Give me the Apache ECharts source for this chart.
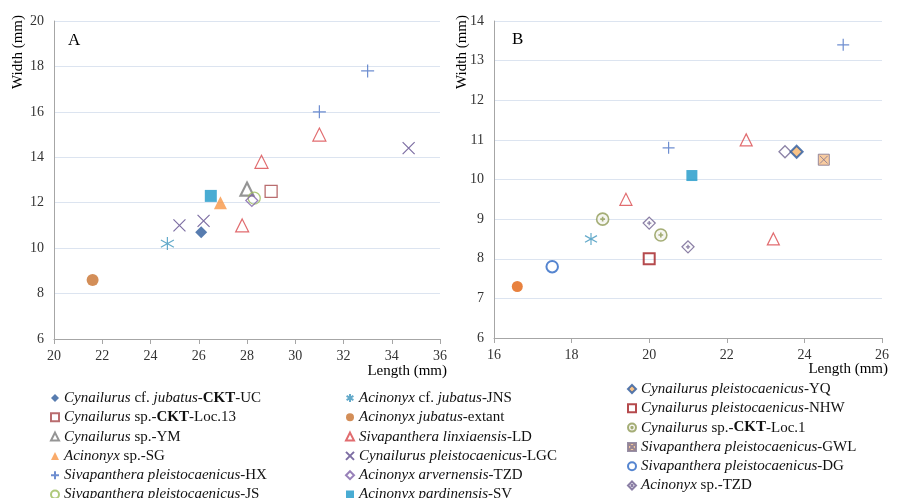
<!DOCTYPE html>
<html>
<head>
<meta charset="utf-8">
<script src="https://cdn.jsdelivr.net/npm/echarts@6/dist/echarts.min.js"></script>
<style>
html,body{margin:0;padding:0;background:#fff;}
#main{width:906px;height:498px;}
</style>
</head>
<body>
<div id="main"></div>
<script>
// ---------- Axis ranges / tick labels ----------
const xTicksA = [20, 22, 24, 26, 28, 30, 32, 34, 36];
const yTicksA = [6, 8, 10, 12, 14, 16, 18, 20];
const xTicksB = [16, 18, 20, 22, 24, 26];
const yTicksB = [6, 7, 8, 9, 10, 11, 12, 13, 14];

// ---------- Panel A data [length, width] ----------
const a_cktUC   = [[26.1, 10.7]];
const a_cktLoc13 = [[29.0, 12.5]];
const a_YM      = [[28.0, 12.6]];
const a_SG      = [[26.9, 12.0]];
const a_HX      = [[31.0, 16.0], [33.0, 17.8]];
const a_JS      = [[28.3, 12.2]];
const a_JNS     = [[24.7, 10.2]];
const a_extant  = [[21.6, 8.6]];
const a_LD      = [[27.8, 11.0], [28.6, 13.8], [31.0, 15.0]];
const a_LGC     = [[25.2, 11.0], [26.2, 11.2], [34.7, 14.4]];
const a_arvTZD  = [[28.2, 12.1]];
const a_SV      = [[26.5, 12.3]];

// ---------- Panel B data [length, width] ----------
const b_YQ      = [[23.8, 10.7]];
const b_NHW     = [[20.0, 8.0]];
const b_Loc1    = [[18.8, 9.0], [20.3, 8.6]];
const b_GWL     = [[24.5, 10.5]];
const b_DG      = [[17.5, 7.8]];
const b_spTZD   = [[20.0, 8.9], [21.0, 8.3]];
const b_extant  = [[16.6, 7.3]];
const b_JNS     = [[18.5, 8.5]];
const b_LD      = [[19.4, 9.5], [22.5, 11.0], [23.2, 8.5]];
const b_HX      = [[20.5, 10.8], [25.0, 13.4]];
const b_arvTZD  = [[23.5, 10.7]];
const b_SV      = [[21.1, 10.1]];

// ---------- Legend columns (series names) ----------
const N = {
  cktUC: 'Cynailurus cf. jubatus-CKT-UC',
  cktLoc13: 'Cynailurus sp.-CKT-Loc.13',
  YM: 'Cynailurus sp.-YM',
  SG: 'Acinonyx sp.-SG',
  HX: 'Sivapanthera pleistocaenicus-HX',
  JS: 'Sivapanthera pleistocaenicus-JS',
  JNS: 'Acinonyx cf. jubatus-JNS',
  extant: 'Acinonyx jubatus-extant',
  LD: 'Sivapanthera linxiaensis-LD',
  LGC: 'Cynailurus pleistocaenicus-LGC',
  arvTZD: 'Acinonyx arvernensis-TZD',
  SV: 'Acinonyx pardinensis-SV',
  YQ: 'Cynailurus pleistocaenicus-YQ',
  NHW: 'Cynailurus pleistocaenicus-NHW',
  Loc1: 'Cynailurus sp.-CKT-Loc.1',
  GWL: 'Sivapanthera pleistocaenicus-GWL',
  DG: 'Sivapanthera pleistocaenicus-DG',
  spTZD: 'Acinonyx sp.-TZD'
};
const legendCol1 = [N.cktUC, N.cktLoc13, N.YM, N.SG, N.HX, N.JS];
const legendCol2 = [N.JNS, N.extant, N.LD, N.LGC, N.arvTZD, N.SV];
const legendCol3 = [N.YQ, N.NHW, N.Loc1, N.GWL, N.DG, N.spTZD];

const richLabel = {};
richLabel[N.cktUC] = '{i|Cynailurus}{n| cf. }{i|jubatus}{n|-}{b|CKT}{n|-UC}';
richLabel[N.cktLoc13] = '{i|Cynailurus}{n| sp.-}{b|CKT}{n|-Loc.13}';
richLabel[N.YM] = '{i|Cynailurus}{n| sp.-YM}';
richLabel[N.SG] = '{i|Acinonyx}{n| sp.-SG}';
richLabel[N.HX] = '{i|Sivapanthera pleistocaenicus}{n|-HX}';
richLabel[N.JS] = '{i|Sivapanthera pleistocaenicus}{n|-JS}';
richLabel[N.JNS] = '{i|Acinonyx}{n| cf. }{i|jubatus}{n|-JNS}';
richLabel[N.extant] = '{i|Acinonyx jubatus}{n|-extant}';
richLabel[N.LD] = '{i|Sivapanthera linxiaensis}{n|-LD}';
richLabel[N.LGC] = '{i|Cynailurus pleistocaenicus}{n|-LGC}';
richLabel[N.arvTZD] = '{i|Acinonyx arvernensis}{n|-TZD}';
richLabel[N.SV] = '{i|Acinonyx pardinensis}{n|-SV}';
richLabel[N.YQ] = '{i|Cynailurus pleistocaenicus}{n|-YQ}';
richLabel[N.NHW] = '{i|Cynailurus pleistocaenicus}{n|-NHW}';
richLabel[N.Loc1] = '{i|Cynailurus}{n| sp.-}{b|CKT}{n|-Loc.1}';
richLabel[N.GWL] = '{i|Sivapanthera pleistocaenicus}{n|-GWL}';
richLabel[N.DG] = '{i|Sivapanthera pleistocaenicus}{n|-DG}';
richLabel[N.spTZD] = '{i|Acinonyx}{n| sp.-TZD}';

// ---------- Symbols ----------
const P_PLUS = 'path://M10,0L10,20M0,10L20,10';
const P_X = 'path://M0,0L20,20M20,0L0,20';
const P_AST = 'path://M10,0L10,20M1.5,4.5L18.5,15.5M18.5,4.5L1.5,15.5';
const P_CPLUS = 'path://M0,10A10,10,0,1,1,20,10A10,10,0,1,1,0,10ZM10,6L10,14M6,10L14,10';
const P_DPLUS = 'path://M10,0L20,10L10,20L0,10ZM10,6.5L10,13.5M6.5,10L13.5,10';
const P_SQX = 'path://M0,0L20,0L20,20L0,20ZM3,3L17,17M17,3L3,17';
const CLEAR = 'rgba(255,255,255,0)';

const FONT = 'Liberation Serif, Times New Roman, serif';

function sc(name, data, g, symbol, size, itemStyle, z) {
  return {
    type: 'scatter', name: name, data: data,
    xAxisIndex: g, yAxisIndex: g,
    symbol: symbol, symbolSize: size,
    itemStyle: itemStyle, z: z || 2,
    emphasis: { disabled: true }
  };
}

const S = {
  cktUC:   { symbol: 'diamond', itemStyle: { color: '#2d5b9b' } },
  cktLoc13:{ symbol: 'rect', itemStyle: { color: CLEAR, borderColor: '#a8494b', borderWidth: 1.3 } },
  YM:      { symbol: 'triangle', itemStyle: { color: CLEAR, borderColor: '#7a7a7a', borderWidth: 2.2 } },
  SG:      { symbol: 'triangle', itemStyle: { color: '#f79646' } },
  HX:      { symbol: P_PLUS, itemStyle: { color: CLEAR, borderColor: '#4a72c4', borderWidth: 1.2 } },
  JS:      { symbol: 'circle', itemStyle: { color: CLEAR, borderColor: '#9bbb59', borderWidth: 1.3 } },
  JNS:     { symbol: P_AST, itemStyle: { color: CLEAR, borderColor: '#3d95bd', borderWidth: 1.2 } },
  extantA: { symbol: 'circle', itemStyle: { color: '#c8722e' } },
  extantB: { symbol: 'circle', itemStyle: { color: '#e2620e' } },
  LD:      { symbol: 'triangle', itemStyle: { color: CLEAR, borderColor: '#d9474b', borderWidth: 1.2 } },
  LGC:     { symbol: P_X, itemStyle: { color: CLEAR, borderColor: '#5d4a8c', borderWidth: 1.2 } },
  arvTZD:  { symbol: 'diamond', itemStyle: { color: CLEAR, borderColor: '#7e62a8', borderWidth: 1.3 } },
  SV:      { symbol: 'rect', itemStyle: { color: '#1b97c8' } },
  YQ:      { symbol: 'diamond', itemStyle: { color: '#f7b469', borderColor: '#2a5aa0', borderWidth: 2 } },
  NHW:     { symbol: 'rect', itemStyle: { color: CLEAR, borderColor: '#a21d20', borderWidth: 2 } },
  Loc1:    { symbol: P_CPLUS, itemStyle: { color: '#f4f4ee', borderColor: '#8e9a55', borderWidth: 1.6 } },
  GWL:     { symbol: P_SQX, itemStyle: { color: '#f8bf88', borderColor: '#7d7390', borderWidth: 1 } },
  DG:      { symbol: 'circle', itemStyle: { color: CLEAR, borderColor: '#2a66c4', borderWidth: 2 } },
  spTZD:   { symbol: P_DPLUS, itemStyle: { color: '#fbfbfd', borderColor: '#6e5f8e', borderWidth: 1.3 } },
  arvTZDb: { symbol: 'diamond', itemStyle: { color: CLEAR, borderColor: '#6e6390', borderWidth: 1.3 } }
};

const series = [
  // Panel A
  sc(N.cktUC, a_cktUC, 0, S.cktUC.symbol, 12, S.cktUC.itemStyle),
  sc(N.cktLoc13, a_cktLoc13, 0, S.cktLoc13.symbol, 12, S.cktLoc13.itemStyle),
  sc(N.YM, a_YM, 0, S.YM.symbol, 13, S.YM.itemStyle),
  sc(N.SG, a_SG, 0, S.SG.symbol, 13, S.SG.itemStyle),
  sc(N.HX, a_HX, 0, S.HX.symbol, 13, S.HX.itemStyle),
  sc(N.JS, a_JS, 0, S.JS.symbol, 12, S.JS.itemStyle),
  sc(N.JNS, a_JNS, 0, S.JNS.symbol, 13, S.JNS.itemStyle),
  sc(N.extant, a_extant, 0, S.extantA.symbol, 12, S.extantA.itemStyle),
  sc(N.LD, a_LD, 0, S.LD.symbol, 13, S.LD.itemStyle),
  sc(N.LGC, a_LGC, 0, S.LGC.symbol, 12, S.LGC.itemStyle),
  sc(N.arvTZD, a_arvTZD, 0, S.arvTZD.symbol, 12, S.arvTZD.itemStyle),
  sc(N.SV, a_SV, 0, S.SV.symbol, 12, S.SV.itemStyle),
  // Panel B
  sc(N.YQ, b_YQ, 1, S.YQ.symbol, 12, S.YQ.itemStyle, 3),
  sc(N.NHW, b_NHW, 1, S.NHW.symbol, 11, S.NHW.itemStyle),
  sc(N.Loc1, b_Loc1, 1, S.Loc1.symbol, 12, S.Loc1.itemStyle),
  sc(N.GWL, b_GWL, 1, S.GWL.symbol, 11, S.GWL.itemStyle),
  sc(N.DG, b_DG, 1, S.DG.symbol, 11.5, S.DG.itemStyle),
  sc(N.spTZD, b_spTZD, 1, S.spTZD.symbol, 12, S.spTZD.itemStyle),
  sc(N.extant, b_extant, 1, S.extantB.symbol, 11, S.extantB.itemStyle),
  sc(N.JNS, b_JNS, 1, S.JNS.symbol, 12, S.JNS.itemStyle),
  sc(N.LD, b_LD, 1, S.LD.symbol, 12, S.LD.itemStyle),
  sc(N.HX, b_HX, 1, S.HX.symbol, 12, S.HX.itemStyle),
  sc(N.arvTZD, b_arvTZD, 1, S.arvTZDb.symbol, 12, S.arvTZDb.itemStyle),
  sc(N.SV, b_SV, 1, S.SV.symbol, 11, S.SV.itemStyle)
];

function axisX(ticks, g) {
  return {
    type: 'value', gridIndex: g,
    min: ticks[0], max: ticks[ticks.length - 1], interval: ticks[1] - ticks[0],
    axisLine: { show: true, onZero: false, lineStyle: { color: '#a6a6a6', width: 1 } },
    axisTick: { show: true, inside: false, length: 5, lineStyle: { color: '#a6a6a6' } },
    axisLabel: { color: '#333', fontFamily: FONT, fontSize: 14, margin: 10 },
    splitLine: { show: false }
  };
}
function axisY(ticks, g) {
  return {
    type: 'value', gridIndex: g,
    min: ticks[0], max: ticks[ticks.length - 1], interval: ticks[1] - ticks[0],
    axisLine: { show: true, onZero: false, lineStyle: { color: '#a6a6a6', width: 1 } },
    axisTick: { show: false },
    axisLabel: { color: '#333', fontFamily: FONT, fontSize: 14, margin: 10 },
    splitLine: { show: true, lineStyle: { color: '#dce4f0', width: 1.2 } }
  };
}

const richStyles = {
  n: { fontFamily: FONT, fontSize: 15, color: '#111', lineHeight: 18 },
  i: { fontFamily: FONT, fontSize: 15, color: '#111', fontStyle: 'italic', lineHeight: 18 },
  b: { fontFamily: FONT, fontSize: 15, color: '#111', fontWeight: 'bold', lineHeight: 18 }
};
function legend(names, left, top) {
  return {
    orient: 'vertical', left: left, top: top, padding: 0,
    width: 290, height: 140,
    itemWidth: 8, itemHeight: 8, itemGap: 1.3,
    selectedMode: false,
    data: names,
    formatter: function (name) { return richLabel[name]; },
    textStyle: { fontFamily: FONT, fontSize: 15, color: '#111', lineHeight: 18, rich: richStyles }
  };
}

const option = {
  backgroundColor: '#fff',
  animation: false,
  grid: [
    { left: 54, right: 466, top: 21, bottom: 159, containLabel: false },
    { left: 494, right: 24, top: 21, bottom: 160, containLabel: false }
  ],
  xAxis: [axisX(xTicksA, 0), axisX(xTicksB, 1)],
  yAxis: [axisY(yTicksA, 0), axisY(yTicksB, 1)],
  legend: [legend(legendCol1, 50, 389), legend(legendCol2, 345, 389), legend(legendCol3, 627, 380)],
  graphic: [
    { type: 'text', x: 68, y: 41, style: { text: 'A', font: '17px ' + FONT, fill: '#000', verticalAlign: 'middle' } },
    { type: 'text', x: 512, y: 40, style: { text: 'B', font: '17px ' + FONT, fill: '#000', verticalAlign: 'middle' } },
    { type: 'text', x: 18, y: 52, rotation: Math.PI / 2, style: { text: 'Width (mm)', font: '15px ' + FONT, fill: '#000', align: 'center', verticalAlign: 'middle' } },
    { type: 'text', x: 462, y: 52, rotation: Math.PI / 2, style: { text: 'Width (mm)', font: '15px ' + FONT, fill: '#000', align: 'center', verticalAlign: 'middle' } },
    { type: 'text', x: 447, y: 371, style: { text: 'Length (mm)', font: '15px ' + FONT, fill: '#000', align: 'right', verticalAlign: 'middle' } },
    { type: 'text', x: 888, y: 369, style: { text: 'Length (mm)', font: '15px ' + FONT, fill: '#000', align: 'right', verticalAlign: 'middle' } }
  ],
  series: series
};

const chart = echarts.init(document.getElementById('main'), null, { renderer: 'canvas' });
chart.setOption(option);
</script>
</body>
</html>
